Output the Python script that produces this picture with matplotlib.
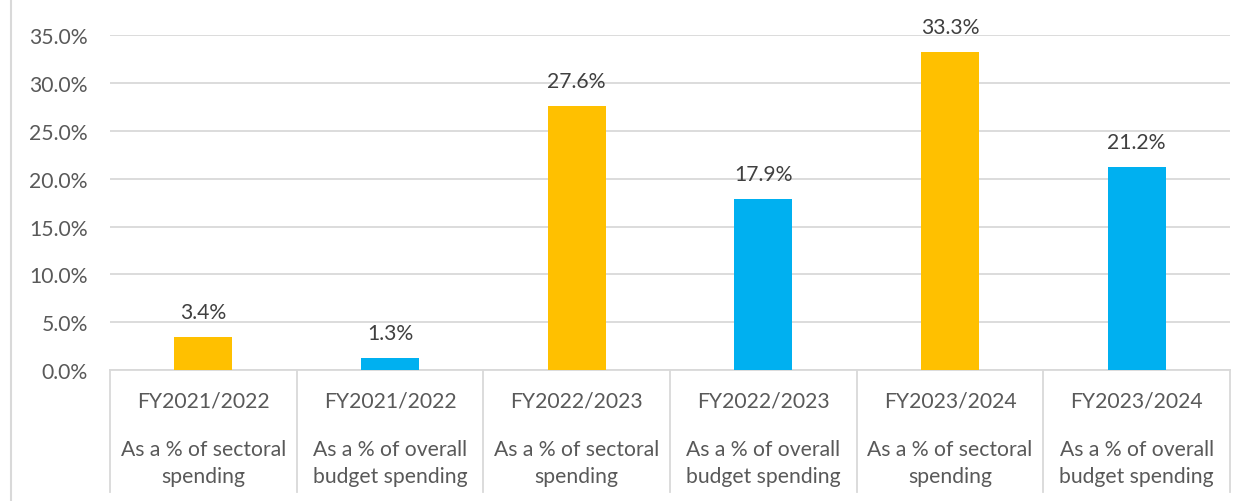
import matplotlib
matplotlib.use("Agg")
import matplotlib.pyplot as plt
from matplotlib.lines import Line2D
from matplotlib.ticker import FuncFormatter, MultipleLocator

plt.rcParams['font.family'] = ['Lato', 'DejaVu Sans']

# Data
fiscal_years = ["FY2021/2022", "FY2021/2022", "FY2022/2023",
                "FY2022/2023", "FY2023/2024", "FY2023/2024"]
measures = ["As a % of sectoral\nspending", "As a % of overall\nbudget spending",
            "As a % of sectoral\nspending", "As a % of overall\nbudget spending",
            "As a % of sectoral\nspending", "As a % of overall\nbudget spending"]
values = [3.4, 1.3, 27.6, 17.9, 33.3, 21.2]
bar_colors = ["#FFC000", "#00B0F0", "#FFC000", "#00B0F0", "#FFC000", "#00B0F0"]

W, H = 1254, 502
fig = plt.figure(figsize=(W / 100, H / 100), dpi=100)
fig.patch.set_facecolor("white")

x0, x1 = 110, 1230
y_top, y_zero = 36.4, 371
ax = fig.add_axes([x0 / W, 1 - y_zero / H, (x1 - x0) / W, (y_zero - y_top) / H])

FS = 15.2
n = len(values)
xs = list(range(n))
ax.bar(xs, values, width=0.31, color=bar_colors, zorder=3)
ax.set_xlim(-0.5, n - 0.5)
ax.set_ylim(0, 35)
ax.yaxis.set_major_locator(MultipleLocator(5))
ax.yaxis.set_major_formatter(FuncFormatter(lambda v, p: f"{v:.1f}%"))
ax.grid(axis="y", color="#D9D9D9", linewidth=1.3, zorder=0)
ax.set_axisbelow(True)
for s in ["top", "right", "left"]:
    ax.spines[s].set_visible(False)
ax.spines["bottom"].set_color("#D9D9D9")
ax.spines["bottom"].set_linewidth(1.3)
ax.tick_params(axis="y", length=0, pad=16, labelsize=FS, labelcolor="#595959")
ax.tick_params(axis="x", length=0, labelbottom=False)

# Value labels above bars
for x, v in zip(xs, values):
    ax.annotate(f"{v:.1f}%", (x, v), xytext=(0, 18), textcoords="offset points",
                ha="center", va="center", fontsize=FS, color="#404040")

# Two-level category axis with separators
trans = ax.get_xaxis_transform()
span = y_zero - y_top
sep_bottom = -(493 - y_zero) / span
for i in range(n + 1):
    ax.add_line(Line2D([i - 0.5, i - 0.5], [0, sep_bottom], transform=trans,
                       color="#D9D9D9", linewidth=1.3, clip_on=False))
for x, fy, m in zip(xs, fiscal_years, measures):
    ax.text(x, -(402 - y_zero) / span, fy, transform=trans,
            ha="center", va="center", fontsize=FS, color="#595959")
    ax.text(x, -(463.5 - y_zero) / span, m, transform=trans,
            ha="center", va="center", fontsize=FS, color="#595959",
            linespacing=1.45)

# Chart frame edge on the left
fig.add_artist(Line2D([11 / W, 11 / W], [0, 1], transform=fig.transFigure,
                      color="#D9D9D9", linewidth=1.5))

fig.savefig("out.png", dpi=100, facecolor="white")
